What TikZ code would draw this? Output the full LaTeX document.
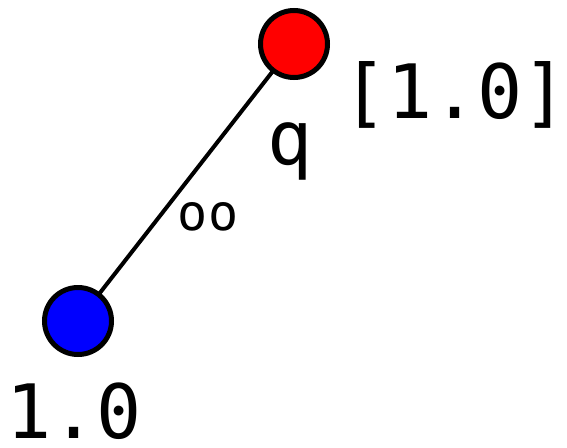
\documentclass[tikz,border=0pt]{standalone}
\usepackage{fontspec}
\newfontfamily\monofont{DejaVu Sans Mono}
\begin{document}
\begin{tikzpicture}[x=1pt,y=-1pt,
  vertex/.style={circle, draw=black, line width=5pt, minimum size=67pt, inner sep=0pt},
  edgeline/.style={line width=4pt, black},
  bigtext/.style={font=\monofont\fontsize{75}{75}\selectfont, inner sep=0pt, anchor=base},
  smalltext/.style={font=\monofont\fontsize{50}{50}\selectfont, inner sep=0pt, anchor=base}]
\useasboundingbox (0,0) rectangle (567,447);
\coordinate (rc) at (294,44);
\coordinate (bc) at (78,321);
\draw[edgeline] (rc) -- (bc);
\node[vertex, fill=red] (r) at (rc) {};
\node[vertex, fill=blue] (b) at (bc) {};
\node[bigtext] (rl) at (455,118) {[1.0]};
\node[bigtext] (q) at (290,164) {q};
\node[smalltext] (oo) at (208,230) {oo};
\node[bigtext] (bl) at (74,438) {1.0};
\end{tikzpicture}
\end{document}
